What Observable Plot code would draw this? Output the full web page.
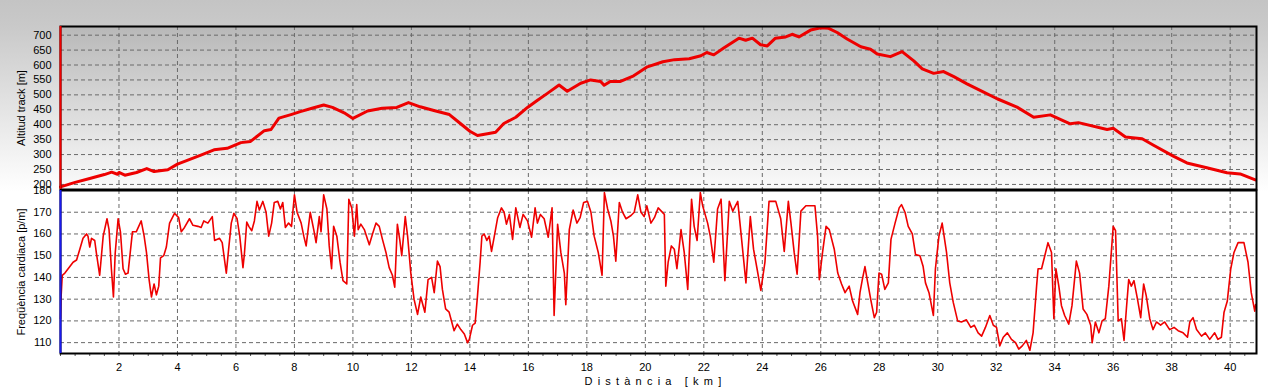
<!DOCTYPE html>
<html><head><meta charset="utf-8">
<script src="https://cdn.jsdelivr.net/npm/d3@7"></script>
<script src="https://cdn.jsdelivr.net/npm/@observablehq/plot@0.6"></script>
<style>
html,body{margin:0;padding:0;background:#fff;}
#chart{position:relative;width:1268px;height:388px;background:linear-gradient(#c4c4c4 0px,#c9c9c9 26px,#ffffff 192px,#ffffff 388px);font-family:"Liberation Sans",Arial,sans-serif;overflow:hidden}
#chart svg{position:absolute;left:0;}
</style></head><body><div id="chart"></div><script>
// ---- data ----
const altKm = [0,0.5,1.0,1.5,1.75,1.95,2.0,2.2,2.6,2.95,3.2,3.67,4.0,4.4,4.8,5.25,5.7,6.17,6.5,6.97,7.2,7.47,7.88,8.2,8.6,9.0,9.3,9.7,10.0,10.5,11.0,11.5,11.9,12.3,12.8,13.3,13.6,14.0,14.26,14.6,14.88,15.16,15.57,15.97,16.3,16.65,17.05,17.33,17.79,18.13,18.47,18.59,18.8,19.15,19.6,20.07,20.6,21.0,21.5,21.9,22.1,22.34,22.68,23.2,23.43,23.66,23.94,24.17,24.45,24.8,25.02,25.25,25.65,26.0,26.27,26.56,26.9,27.37,27.7,27.93,28.38,28.78,29.18,29.47,29.86,30.2,30.55,31.0,31.57,32.03,32.71,33.28,33.85,34.53,34.81,35.79,36.0,36.42,36.99,37.38,38.07,38.52,39.2,39.89,40.34,40.86];
const altM = [192,207,220,233,241,234,240,231,240,253,243,249,268,283,298,316,321,340,344,380,384,422,434,444,455,466,458,440,421,446,455,458,474,460,447,434,410,378,364,370,375,404,425,458,481,505,533,512,539,550,545,532,545,545,564,594,611,618,621,631,642,634,657,690,683,690,668,664,690,694,703,694,717,725,723,709,687,661,653,637,628,645,614,587,572,578,561,537,509,487,459,425,433,403,407,384,388,359,353,331,294,272,256,239,235,215];

const hrKm = [0,0.02,0.06,0.15,0.32,0.43,0.55,0.66,0.77,0.89,0.94,1.0,1.06,1.17,1.23,1.34,1.46,1.59,1.66,1.74,1.81,1.87,1.97,2.05,2.14,2.22,2.31,2.46,2.59,2.76,2.86,2.94,3.03,3.11,3.2,3.28,3.36,3.42,3.53,3.62,3.73,3.9,4.04,4.13,4.24,4.41,4.53,4.7,4.81,4.9,5.04,5.19,5.27,5.44,5.53,5.61,5.67,5.75,5.84,5.93,6.04,6.13,6.24,6.29,6.37,6.44,6.54,6.63,6.72,6.8,6.92,7.03,7.12,7.22,7.31,7.43,7.52,7.6,7.69,7.8,7.9,8.0,8.09,8.23,8.32,8.4,8.54,8.66,8.74,8.85,8.91,9.0,9.11,9.19,9.27,9.34,9.45,9.56,9.66,9.79,9.86,9.96,10.05,10.13,10.18,10.27,10.39,10.56,10.67,10.79,10.9,11.01,11.13,11.24,11.35,11.43,11.52,11.6,11.67,11.79,11.87,11.98,12.09,12.21,12.32,12.46,12.57,12.69,12.78,12.89,12.98,13.06,13.17,13.29,13.46,13.57,13.69,13.81,13.92,13.98,14.09,14.18,14.26,14.35,14.41,14.49,14.58,14.66,14.74,14.83,14.95,15.08,15.17,15.25,15.35,15.46,15.57,15.71,15.82,15.97,16.11,16.23,16.31,16.41,16.54,16.68,16.81,16.88,17.0,17.11,17.23,17.28,17.4,17.53,17.66,17.77,17.89,18.02,18.14,18.25,18.39,18.52,18.6,18.71,18.82,18.91,18.99,19.11,19.22,19.34,19.51,19.62,19.74,19.85,19.96,20.05,20.19,20.31,20.44,20.65,20.7,20.78,20.89,20.99,21.08,21.22,21.33,21.45,21.58,21.67,21.77,21.88,21.96,22.13,22.22,22.34,22.47,22.59,22.72,22.87,22.99,23.16,23.27,23.44,23.59,23.7,23.82,23.95,24.09,24.23,24.46,24.63,24.75,24.89,24.98,25.09,25.19,25.32,25.49,25.67,25.8,25.89,25.95,26.06,26.18,26.29,26.46,26.58,26.71,26.83,26.97,27.09,27.26,27.34,27.42,27.51,27.6,27.72,27.83,27.91,27.99,28.08,28.19,28.31,28.4,28.54,28.68,28.76,28.88,28.99,29.13,29.24,29.39,29.5,29.58,29.7,29.85,29.92,30.04,30.15,30.3,30.41,30.53,30.68,30.81,30.98,31.13,31.25,31.38,31.5,31.63,31.78,31.9,32.01,32.12,32.24,32.38,32.52,32.66,32.77,32.89,33.03,33.15,33.26,33.38,33.43,33.55,33.66,33.77,33.89,33.97,34.04,34.14,34.23,34.34,34.48,34.59,34.74,34.85,34.97,35.1,35.23,35.28,35.39,35.51,35.62,35.73,35.85,36.0,36.08,36.17,36.28,36.37,36.45,36.53,36.62,36.71,36.83,36.94,37.04,37.13,37.25,37.36,37.48,37.62,37.76,37.93,38.08,38.22,38.39,38.54,38.62,38.73,38.85,39.02,39.15,39.3,39.47,39.58,39.7,39.79,39.9,40.02,40.13,40.27,40.47,40.61,40.72,40.84,40.87];
const hrBpm = [121,131,141,142,145,147,148,153,158,160,159,154,158,157,151,141,159,167,162,144,131,151,167,161,144,141.5,142,161,161,166,159,151.5,139,131,137,132,136,149,150,154,165,169.5,167.5,161,163,167,164,163.5,163,166,165,168,157,158,156,148,142,153,165,169.5,167,159,144.5,151,165.5,163.5,161.5,166,175,171,175,170,159,165,174.5,175,171.5,174.5,163,165,163.5,178,170,165,159,154.5,170,162,156,168,161,178,171.5,154.5,144,163.5,159,147,138.5,137,176,172,159,173.5,162,164.5,162,155,160,165,163.5,157.5,151.5,144.5,141,135.5,164.5,157.5,150,168,159,142,130,123,131,124,139,140,133,147.5,145,134.5,125.5,124,115.5,118.5,116,114,110,111.5,118,119,131.5,147,159,160,157,159,152,158.5,167.5,172,170,164.5,169,157.5,172,163,169,166,158.5,172,165,169,167,158.5,172,122.5,164.5,151.5,142,127.5,162,171,165,167.5,174.5,175,170,159,151.5,141,179,171.5,166,159,147.5,174.5,170,167,168.5,170,178,170,168,173,165,167.5,172,169,136,147,154.5,153,144,162,151.5,134.5,176,163.5,157,179,173,165,159,147,171.5,176,138.5,175,170.5,175,160.5,137.5,168,153,144,134,147,175,175,167,152,175,165,151.5,141.5,170.5,173,173,173,159,139,151.5,163.5,162,153,142,137,133,136,129,123,133,139,145,138,129,121.5,124,142,141.5,134.5,137.5,157.5,165,172,173.5,170,163.5,160,150.5,150,145,137.5,133,122.5,144,159,165,151.5,137.5,128.5,120,119.5,120.5,117,118,114.5,113,117,122.5,118,117,108.5,112.5,114.5,111.5,110,107,108.5,111,106.5,114.5,136,144,144,150,156,151.5,121,144,136,127,122.5,118.5,127,147.5,142,125.5,123,118,110,119.5,114.5,120,121,136,163.5,161.5,120,121,111,125.5,139,136,138.5,130,121.5,137,131.5,121,116,119.5,118,119.5,116,117,115.5,114.5,112.5,119.5,121.5,116,113,114.5,111.5,114.5,111.5,112.5,124,129,144,151.5,156,156,147,133,124.5,127.5];

const altTicks = [200,250,300,350,400,450,500,550,600,650,700];
const hrTicks = [110,120,130,140,150,160,170,180];
const kmTicks = [2,4,6,8,10,12,14,16,18,20,22,24,26,28,30,32,34,36,38,40];
const kmMinor = d3.range(0, 41, 0.5);
const altLabel = "Altitud track [m]";
const hrLabel = "Freqüència cardiaca [p/m]";
const xLabel = "Distància [km]";

const altData = altKm.map((k, i) => ({km: k, alt: altM[i]}));
const hrData = hrKm.map((k, i) => ({km: k, hr: hrBpm[i]}));

const FONT = "'Liberation Sans', Arial, sans-serif";
const RED = "#ee0000";
const GRID = {stroke: "#6a6a6a", strokeOpacity: 1, strokeWidth: 1, strokeDasharray: "4,3"};

function gradientDefs(id, c1, c2) {
  return () => {
    const ns = "http://www.w3.org/2000/svg";
    const defs = document.createElementNS(ns, "defs");
    const g = document.createElementNS(ns, "linearGradient");
    g.setAttribute("id", id);
    g.setAttribute("x1", "0"); g.setAttribute("y1", "0");
    g.setAttribute("x2", "0"); g.setAttribute("y2", "1");
    [[0, c1], [1, c2]].forEach(([o, c]) => {
      const s = document.createElementNS(ns, "stop");
      s.setAttribute("offset", o); s.setAttribute("stop-color", c);
      g.appendChild(s);
    });
    defs.appendChild(g);
    return defs;
  };
}

const common = {
  width: 1268, marginLeft: 60, marginRight: 12,
  style: {background: "transparent", fontFamily: FONT, fontSize: "11px", color: "#000", overflow: "visible"},
  x: {domain: [0, 40.9], axis: null}
};

const topPlot = Plot.plot({
  ...common,
  height: 190, marginTop: 26, marginBottom: 1,
  y: {domain: [183, 729], axis: null},
  marks: [
    gradientDefs("altBg", "#b8b8b8", "#fbfbfb"),
    Plot.frame({fill: "url(#altBg)", stroke: null}),
    Plot.gridY(altTicks, GRID),
    Plot.gridX(kmTicks, GRID),
    Plot.axisY(altTicks, {tickSize: 0, tickPadding: 9, label: null, fontSize: 11}),
    Plot.line(altData, {x: "km", y: "alt", stroke: RED, strokeWidth: 3, strokeLinejoin: "round"}),
    Plot.frame({stroke: "#000", strokeWidth: 2}),
    Plot.ruleX([0], {stroke: RED, strokeWidth: 2}),
    Plot.text([altLabel], {text: d => d, frameAnchor: "left", textAnchor: "middle", dx: -39, rotate: -90, fontSize: 11, fill: "#000"})
  ]
});
topPlot.style.top = "0px";

const botPlot = Plot.plot({
  ...common,
  height: 199, marginTop: 1, marginBottom: 35,
  y: {domain: [105, 180], axis: null},
  marks: [
    Plot.frame({fill: "#fff", stroke: null}),
    Plot.gridY(hrTicks, GRID),
    Plot.gridX(kmTicks, GRID),
    Plot.axisY(hrTicks, {tickSize: 0, tickPadding: 9, label: null, fontSize: 11}),
    Plot.axisX(kmMinor, {tickSize: 3, tickFormat: () => "", stroke: "#555", label: null}),
    Plot.axisX(kmTicks, {tickSize: 0, tickPadding: 10, label: null, fontSize: 11}),
    Plot.line(hrData, {x: "km", y: "hr", stroke: RED, strokeWidth: 1.6, strokeLinejoin: "round"}),
    Plot.frame({stroke: "#000", strokeWidth: 2}),
    Plot.ruleX([0], {stroke: "#1a1aee", strokeWidth: 2}),
    Plot.text([hrLabel], {text: d => d, frameAnchor: "left", textAnchor: "middle", dx: -39, rotate: -90, fontSize: 11, fill: "#000"}),
    Plot.text([xLabel], {text: d => d, frameAnchor: "bottom", dy: 28, dx: -3, lineAnchor: "middle", fontSize: 11, fill: "#000"})
  ]
});
botPlot.style.top = "189px";
botPlot.querySelectorAll("text").forEach(t => {
  if (t.textContent === xLabel) t.setAttribute("letter-spacing", "5.2");
});

const chart = document.getElementById("chart");
chart.appendChild(topPlot);
chart.appendChild(botPlot);
</script></body></html>
